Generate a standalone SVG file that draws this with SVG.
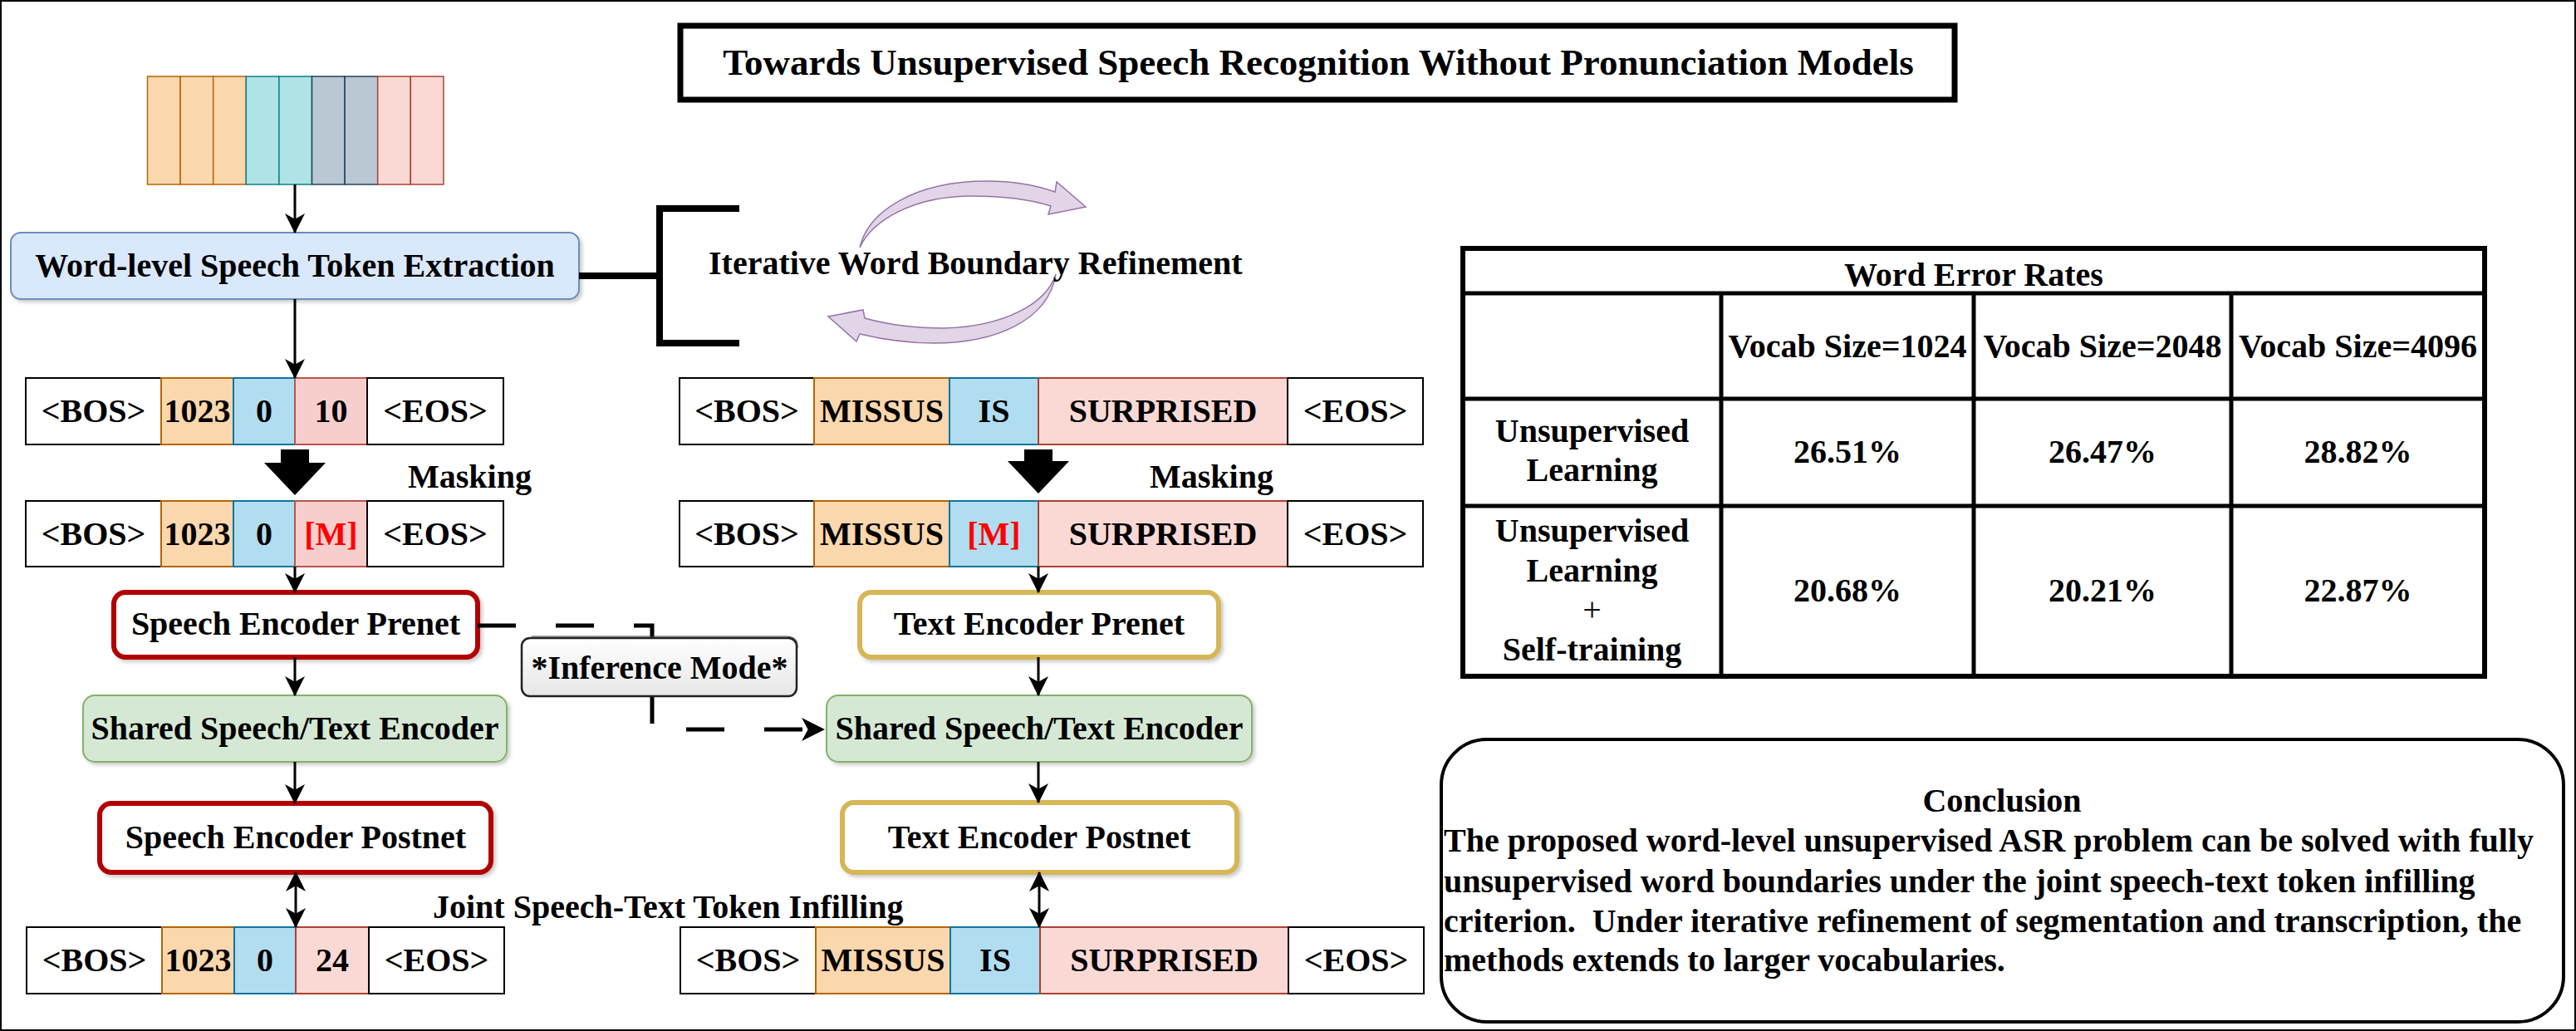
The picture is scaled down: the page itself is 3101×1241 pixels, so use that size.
<svg xmlns="http://www.w3.org/2000/svg" width="3101" height="1241" viewBox="0 0 3101 1241">
<style>
text { font-family: "Liberation Serif", "Times New Roman", serif; font-weight: bold; font-size: 40px; fill: #000; }
.c { text-anchor: middle; }
.red { fill: #ff0000; }
.w { fill: #fff; stroke: #000; stroke-width: 2; }
.or { fill: #fad7ac; stroke: #b46504; stroke-width: 2; }
.bl { fill: #b1ddf0; stroke: #10739e; stroke-width: 2; }
.pk { fill: #fad9d5; stroke: #ae4132; stroke-width: 2; }
.pk2 { fill: #f8cecc; stroke: #b85450; stroke-width: 2; }
.conn { stroke: #000; stroke-width: 3; fill: none; }
.red-box { fill: #fff; stroke: #b20000; stroke-width: 6; }
.yel-box { fill: #fff; stroke: #d6b656; stroke-width: 6; }
.grn-box { fill: #d5e8d4; stroke: #82b366; stroke-width: 2; }
.curv { fill: #e1d5e7; stroke: #9673a6; stroke-width: 1.5; }
.tbl { stroke: #000; stroke-width: 5; fill: none; }
</style>
<defs>
<marker id="ah" markerUnits="userSpaceOnUse" markerWidth="24" markerHeight="24" viewBox="0 0 22 22" refX="21" refY="11" orient="auto-start-reverse">
<path d="M0,0 L22,11 L0,22 L6,11 Z" fill="#000"/>
</marker>
<marker id="ah2" markerUnits="userSpaceOnUse" markerWidth="28" markerHeight="28" viewBox="0 0 26 26" refX="25" refY="13" orient="auto">
<path d="M0,0 L26,13 L0,26 L7,13 Z" fill="#000"/>
</marker>
<filter id="sh" x="-5%" y="-10%" width="115%" height="130%">
<feDropShadow dx="3" dy="3" stdDeviation="2" flood-color="#000" flood-opacity="0.2"/>
</filter>
<linearGradient id="gInf" x1="0" y1="0" x2="0" y2="1">
<stop offset="0" stop-color="#ffffff"/>
<stop offset="1" stop-color="#e6e6e6"/>
</linearGradient>
</defs>

<rect x="1" y="1" width="3099" height="1239" fill="#fff" stroke="#000" stroke-width="2"/>

<g id="title">
<rect x="819" y="31" width="1534" height="89" fill="#fff" stroke="#000" stroke-width="7"/>
<text class="c" x="1587" y="90" style="font-size:45px">Towards Unsupervised Speech Recognition Without Pronunciation Models</text>
</g>

<g id="speech-frames">
<rect x="177.5" y="92" width="39.6" height="130" fill="#fad7ac" stroke="#b46504" stroke-width="1.5"/>
<rect x="217.1" y="92" width="39.6" height="130" fill="#fad7ac" stroke="#b46504" stroke-width="1.5"/>
<rect x="256.7" y="92" width="39.6" height="130" fill="#fad7ac" stroke="#b46504" stroke-width="1.5"/>
<rect x="296.3" y="92" width="39.6" height="130" fill="#b0e3e6" stroke="#0e8088" stroke-width="1.5"/>
<rect x="335.9" y="92" width="39.6" height="130" fill="#b0e3e6" stroke="#0e8088" stroke-width="1.5"/>
<rect x="375.5" y="92" width="39.6" height="130" fill="#bac8d3" stroke="#23445d" stroke-width="1.5"/>
<rect x="415.1" y="92" width="39.6" height="130" fill="#bac8d3" stroke="#23445d" stroke-width="1.5"/>
<rect x="454.7" y="92" width="39.6" height="130" fill="#fad9d5" stroke="#ae4132" stroke-width="1.5"/>
<rect x="494.3" y="92" width="39.6" height="130" fill="#fad9d5" stroke="#ae4132" stroke-width="1.5"/>
</g>

<g id="word-level-extraction">
<rect x="13" y="280" width="684" height="80" rx="12" fill="#dae8fc" stroke="#6c8ebf" stroke-width="2" filter="url(#sh)"/>
<text class="c" x="355" y="333">Word-level Speech Token Extraction</text>
</g>

<g id="iterative-refinement">
<path class="curv" d="M1035,298 C1045,255 1100,218 1188,218 C1220,218 1250,224 1270,231 L1272,219 L1307,249 L1262,258 L1265,248 C1240,240 1210,236 1170,236 C1100,236 1050,265 1035,298 Z"/>
<path class="curv" d="M1271,330 C1262,385 1200,413 1124,413 C1090,413 1060,408 1035,402 L1031,411 L997,381 L1039,373 L1041,383 C1070,391 1100,395 1136,395 C1210,393 1260,365 1271,330 Z"/>
<text x="853" y="330">Iterative Word Boundary Refinement</text>
</g>

<g id="speech-row1">
<rect class="w" x="31" y="455" width="163" height="80"/>
<rect class="or" x="194" y="455" width="87" height="80"/>
<rect class="bl" x="281" y="455" width="74" height="80"/>
<rect class="pk2" x="355" y="455" width="87" height="80"/>
<rect class="w" x="442" y="455" width="164" height="80"/>
<text class="c" x="112.5" y="508">&lt;BOS&gt;</text>
<text class="c" x="237.5" y="508">1023</text>
<text class="c" x="318" y="508">0</text>
<text class="c" x="398.5" y="508">10</text>
<text class="c" x="524" y="508">&lt;EOS&gt;</text>
</g>

<g id="speech-masking">
<polygon points="338,541 372,541 372,557 392,557 355,596 318,557 338,557" fill="#000"/>
<text x="491" y="587">Masking</text>
</g>

<g id="speech-row2">
<rect class="w" x="31" y="603" width="163" height="79"/>
<rect class="or" x="194" y="603" width="87" height="79"/>
<rect class="bl" x="281" y="603" width="74" height="79"/>
<rect class="pk2" x="355" y="603" width="87" height="79"/>
<rect class="w" x="442" y="603" width="164" height="79"/>
<text class="c" x="112.5" y="656">&lt;BOS&gt;</text>
<text class="c" x="237.5" y="656">1023</text>
<text class="c" x="318" y="656">0</text>
<text class="c red" x="398.5" y="656">[M]</text>
<text class="c" x="524" y="656">&lt;EOS&gt;</text>
</g>

<g id="speech-prenet">
<rect class="red-box" x="137" y="713" width="438" height="78" rx="14" filter="url(#sh)"/>
<text class="c" x="356" y="764">Speech Encoder Prenet</text>
</g>

<g id="shared-encoder-left">
<rect class="grn-box" x="100" y="837" width="510" height="80" rx="14" filter="url(#sh)"/>
<text class="c" x="355" y="890">Shared Speech/Text Encoder</text>
</g>

<g id="speech-postnet">
<rect class="red-box" x="120" y="967" width="471" height="83" rx="14" filter="url(#sh)"/>
<text class="c" x="356" y="1021">Speech Encoder Postnet</text>
</g>

<g id="speech-row3">
<rect class="w" x="32" y="1116" width="163" height="80"/>
<rect class="or" x="195" y="1116" width="87" height="80"/>
<rect class="bl" x="282" y="1116" width="74" height="80"/>
<rect class="pk" x="356" y="1116" width="88" height="80"/>
<rect class="w" x="444" y="1116" width="163" height="80"/>
<text class="c" x="113.5" y="1169">&lt;BOS&gt;</text>
<text class="c" x="238.5" y="1169">1023</text>
<text class="c" x="319" y="1169">0</text>
<text class="c" x="400" y="1169">24</text>
<text class="c" x="525.5" y="1169">&lt;EOS&gt;</text>
</g>

<g id="joint-label">
<text x="521" y="1105">Joint Speech-Text Token Infilling</text>
</g>

<g id="text-row1">
<rect class="w" x="818" y="455" width="162" height="80"/>
<rect class="or" x="980" y="455" width="163" height="80"/>
<rect class="bl" x="1143" y="455" width="107" height="80"/>
<rect class="pk" x="1250" y="455" width="300" height="80"/>
<rect class="w" x="1550" y="455" width="163" height="80"/>
<text class="c" x="899" y="508">&lt;BOS&gt;</text>
<text class="c" x="1061.5" y="508">MISSUS</text>
<text class="c" x="1196.5" y="508">IS</text>
<text class="c" x="1400" y="508">SURPRISED</text>
<text class="c" x="1631.5" y="508">&lt;EOS&gt;</text>
</g>

<g id="text-masking">
<polygon points="1233,541 1267,541 1267,555 1287,555 1250,594 1213,555 1233,555" fill="#000"/>
<text x="1384" y="587">Masking</text>
</g>

<g id="text-row2">
<rect class="w" x="818" y="603" width="162" height="79"/>
<rect class="or" x="980" y="603" width="163" height="79"/>
<rect class="bl" x="1143" y="603" width="107" height="79"/>
<rect class="pk" x="1250" y="603" width="300" height="79"/>
<rect class="w" x="1550" y="603" width="163" height="79"/>
<text class="c" x="899" y="656">&lt;BOS&gt;</text>
<text class="c" x="1061.5" y="656">MISSUS</text>
<text class="c red" x="1196.5" y="656">[M]</text>
<text class="c" x="1400" y="656">SURPRISED</text>
<text class="c" x="1631.5" y="656">&lt;EOS&gt;</text>
</g>

<g id="text-prenet">
<rect class="yel-box" x="1035" y="713" width="432" height="78" rx="14" filter="url(#sh)"/>
<text class="c" x="1251" y="764">Text Encoder Prenet</text>
</g>

<g id="shared-encoder-right">
<rect class="grn-box" x="995" y="837" width="512" height="80" rx="14" filter="url(#sh)"/>
<text class="c" x="1251" y="890">Shared Speech/Text Encoder</text>
</g>

<g id="text-postnet">
<rect class="yel-box" x="1014" y="966" width="475" height="84" rx="14" filter="url(#sh)"/>
<text class="c" x="1251" y="1021">Text Encoder Postnet</text>
</g>

<g id="text-row3">
<rect class="w" x="819" y="1116" width="163" height="80"/>
<rect class="or" x="982" y="1116" width="162" height="80"/>
<rect class="bl" x="1144" y="1116" width="108" height="80"/>
<rect class="pk" x="1252" y="1116" width="299" height="80"/>
<rect class="w" x="1551" y="1116" width="163" height="80"/>
<text class="c" x="900.5" y="1169">&lt;BOS&gt;</text>
<text class="c" x="1063" y="1169">MISSUS</text>
<text class="c" x="1198" y="1169">IS</text>
<text class="c" x="1401.5" y="1169">SURPRISED</text>
<text class="c" x="1632.5" y="1169">&lt;EOS&gt;</text>
</g>

<g id="connectors">
<path class="conn" d="M355,222 V280" marker-end="url(#ah)"/>
<path class="conn" d="M355,360 V455" marker-end="url(#ah)"/>
<path d="M697,332 H794" stroke="#000" stroke-width="8" fill="none"/>
<path d="M890,251 H794 V413 H890" stroke="#000" stroke-width="8" fill="none" stroke-linejoin="miter"/>
<path class="conn" d="M355,682 V713" marker-end="url(#ah)"/>
<path class="conn" d="M355,791 V837" marker-end="url(#ah)"/>
<path class="conn" d="M355,917 V967" marker-end="url(#ah)"/>
<path class="conn" d="M356,1050 V1116" marker-start="url(#ah)" marker-end="url(#ah)"/>
<path class="conn" d="M1250,682 V713" marker-end="url(#ah)"/>
<path class="conn" d="M1250,791 V837" marker-end="url(#ah)"/>
<path class="conn" d="M1250,917 V966" marker-end="url(#ah)"/>
<path class="conn" d="M1251,1050 V1116" marker-start="url(#ah)" marker-end="url(#ah)"/>
<path d="M575,753 H785 V878 H992" stroke="#000" stroke-width="5" fill="none" stroke-dasharray="46 48" marker-end="url(#ah2)"/>
</g>

<g id="inference-mode">
<rect x="628" y="768" width="331" height="70" rx="10" fill="url(#gInf)" stroke="#222" stroke-width="2.5"/>
<path d="M640,766 H948 Q961,767 960,780" stroke="#444" stroke-width="1.2" fill="none"/>
<text class="c" x="794" y="817">*Inference Mode*</text>
</g>

<g id="wer-table">
<rect x="1761" y="299" width="1230" height="515" fill="#fff" stroke="#000" stroke-width="6"/>
<path class="tbl" d="M1761,353 H2991 M1761,480 H2991 M1761,609 H2991 M2072,353 V814 M2376,353 V814 M2686,353 V814"/>
<text class="c" x="2376" y="344">Word Error Rates</text>
<text class="c" x="2224" y="430">Vocab Size=1024</text>
<text class="c" x="2531" y="430">Vocab Size=2048</text>
<text class="c" x="2838.5" y="430">Vocab Size=4096</text>
<text class="c" x="1916.5" y="532">Unsupervised</text>
<text class="c" x="1916.5" y="579">Learning</text>
<text class="c" x="2224" y="557">26.51%</text>
<text class="c" x="2531" y="557">26.47%</text>
<text class="c" x="2838.5" y="557">28.82%</text>
<text class="c" x="1916.5" y="652">Unsupervised</text>
<text class="c" x="1916.5" y="700">Learning</text>
<text class="c" x="1916.5" y="747" style="font-weight:normal">+</text>
<text class="c" x="1916.5" y="795">Self-training</text>
<text class="c" x="2224" y="724">20.68%</text>
<text class="c" x="2531" y="724">20.21%</text>
<text class="c" x="2838.5" y="724">22.87%</text>
</g>

<g id="conclusion">
<rect x="1735" y="890" width="1351" height="340" rx="55" fill="#fff" stroke="#000" stroke-width="4"/>
<text class="c" x="2410" y="977">Conclusion</text>
<text x="1738" y="1025">The proposed word-level unsupervised ASR problem can be solved with fully</text>
<text x="1738" y="1074">unsupervised word boundaries under the joint speech-text token infilling</text>
<text x="1738" y="1122" xml:space="preserve">criterion.  Under iterative refinement of segmentation and transcription, the</text>
<text x="1738" y="1169">methods extends to larger vocabularies.</text>
</g>
</svg>
